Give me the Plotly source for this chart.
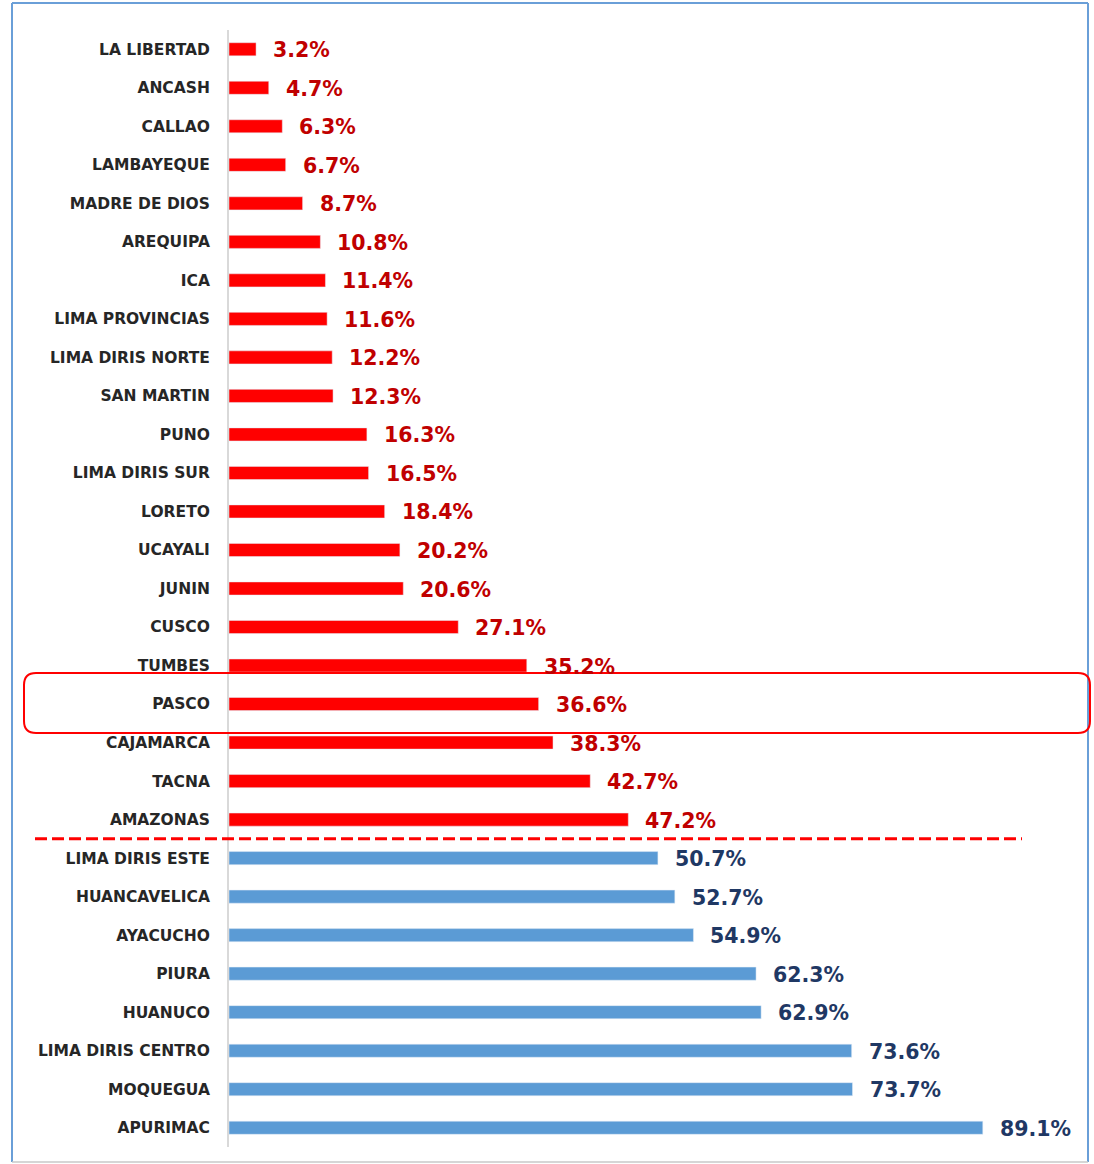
import plotly.graph_objects as go

# ---- data ----
red_regions = ["LA LIBERTAD", "ANCASH", "CALLAO", "LAMBAYEQUE", "MADRE DE DIOS", "AREQUIPA",
               "ICA", "LIMA PROVINCIAS", "LIMA DIRIS NORTE", "SAN MARTIN", "PUNO",
               "LIMA DIRIS SUR", "LORETO", "UCAYALI", "JUNIN", "CUSCO", "TUMBES", "PASCO",
               "CAJAMARCA", "TACNA", "AMAZONAS"]
red_values = [3.2, 4.7, 6.3, 6.7, 8.7, 10.8, 11.4, 11.6, 12.2, 12.3, 16.3, 16.5, 18.4,
              20.2, 20.6, 27.1, 35.2, 36.6, 38.3, 42.7, 47.2]
blue_regions = ["LIMA DIRIS ESTE", "HUANCAVELICA", "AYACUCHO", "PIURA", "HUANUCO",
                "LIMA DIRIS CENTRO", "MOQUEGUA", "APURIMAC"]
blue_values = [50.7, 52.7, 54.9, 62.3, 62.9, 73.6, 73.7, 89.1]
highlight = "PASCO"

categories = red_regions + blue_regions

# ---- layout geometry (pixels) ----
W, H = 1094, 1164
L, R = 229, 1088       # plot area x
T, B = 30, 1147        # plot area y


def px(x):
    return (x - L) / (R - L)


def py(y):
    return (B - y) / (B - T)


RED = "#FF0000"
BLUE = "#5B9BD5"
RED_TXT = "#C00000"
BLUE_TXT = "#1F3864"

fig = go.Figure()
fig.add_trace(go.Bar(y=red_regions, x=red_values, orientation="h", marker_color=RED,
                     width=0.34, hoverinfo="x+y"))
fig.add_trace(go.Bar(y=blue_regions, x=blue_values, orientation="h", marker_color=BLUE,
                     width=0.34, hoverinfo="x+y"))

annotations = []
for regs, vals, col in [(red_regions, red_values, RED_TXT), (blue_regions, blue_values, BLUE_TXT)]:
    for r, v in zip(regs, vals):
        annotations.append(dict(x=v, y=r, xref="x", yref="y", text=f"{v:.1f}%",
                                showarrow=False, xanchor="left", yanchor="middle",
                                xshift=15, yshift=-1,
                                font=dict(family="DejaVu Sans", size=20.5, color=col,
                                          weight="bold")))

shapes = []
# outer frame
shapes.append(dict(type="line", xref="paper", yref="paper", x0=px(12), x1=px(12),
                   y0=py(3), y1=py(1162), line=dict(color="#6A9FD8", width=2)))
shapes.append(dict(type="line", xref="paper", yref="paper", x0=px(12), x1=px(1088),
                   y0=py(3), y1=py(3), line=dict(color="#6A9FD8", width=2)))
shapes.append(dict(type="line", xref="paper", yref="paper", x0=px(1088), x1=px(1088),
                   y0=py(3), y1=py(1162), line=dict(color="#6A9FD8", width=2)))
shapes.append(dict(type="line", xref="paper", yref="paper", x0=px(12), x1=px(1088),
                   y0=py(1162), y1=py(1162), line=dict(color="#C8C8C8", width=1.5)))

# dashed separator between groups
sep = len(red_regions) - 0.5
shapes.append(dict(type="line", xref="paper", yref="y", x0=px(35), x1=px(1022),
                   y0=sep, y1=sep, line=dict(color=RED, width=3, dash="12px,5px")))

# rounded highlight box around PASCO
hi = categories.index(highlight)
row_h = (B - T) / len(categories)
cy = T + (hi + 0.5) * row_h
x0p, x1p = 24, 1090
y0p, y1p = cy - 31, cy + 29
r = 12
rx, ry = r / (R - L), r / (B - T)
X0, X1 = px(x0p), px(x1p)
Y0, Y1 = py(y1p), py(y0p)  # Y0 bottom, Y1 top in paper
path = (f"M {X0+rx},{Y1} L {X1-rx},{Y1} Q {X1},{Y1} {X1},{Y1-ry} "
        f"L {X1},{Y0+ry} Q {X1},{Y0} {X1-rx},{Y0} "
        f"L {X0+rx},{Y0} Q {X0},{Y0} {X0},{Y0+ry} "
        f"L {X0},{Y1-ry} Q {X0},{Y1} {X0+rx},{Y1} Z")
shapes.append(dict(type="path", xref="paper", yref="paper", path=path,
                   line=dict(color=RED, width=2), layer="above"))

fig.update_layout(
    width=W, height=H,
    margin=dict(l=L, r=W - R, t=T, b=H - B),
    paper_bgcolor="white", plot_bgcolor="white",
    showlegend=False,
    bargap=0.66,
    xaxis=dict(range=[0, (R - L) / 8.46], showgrid=False, zeroline=False,
               showticklabels=False, showline=False, fixedrange=True),
    yaxis=dict(categoryorder="array", categoryarray=categories, autorange="reversed",
               showgrid=False, zeroline=False, showline=True, linecolor="#D9D9D9",
               linewidth=2, ticks="", ticklabelstandoff=14,
               tickfont=dict(family="DejaVu Sans", size=15.5, color="#262626",
                             weight="bold"),
               fixedrange=True),
    annotations=annotations,
    shapes=shapes,
)

fig.write_html("out.html", config={"displayModeBar": False},
               post_script="document.body.style.margin='0px';document.body.style.overflow='hidden';")
